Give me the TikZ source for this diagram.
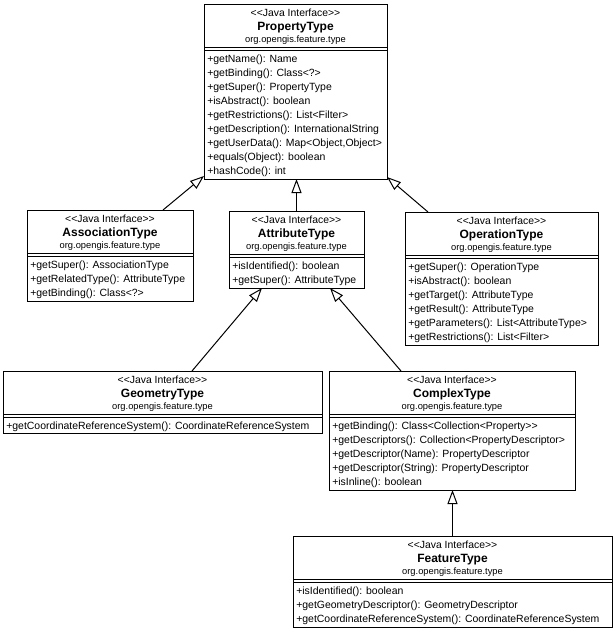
\documentclass[tikz,border=0pt]{standalone}
\usepackage{fontspec}
\setmainfont{Liberation Sans}[Ligatures=TeXOff]
\usetikzlibrary{arrows.meta,calc}
\tikzset{
  box/.style={draw, line width=0.75pt, fill=white, anchor=north west, inner sep=0pt, outer sep=0pt},
  stereo/.style={font=\fontsize{7.8}{9}\selectfont, inner sep=0pt, anchor=base},
  cname/.style={font=\bfseries\fontsize{9}{10}\selectfont, inner sep=0pt, anchor=base},
  pkg/.style={font=\fontsize{7}{8}\selectfont, inner sep=0pt, anchor=base},
  meth/.style={font=\fontsize{7.85}{9}\selectfont, inner sep=0pt, anchor=base west},
  sepline/.style={line width=0.75pt},
  gen/.style={line width=0.75pt, -{Triangle[open,length=10.5pt,width=7.5pt]}},
}
\newcommand{\umlclass}[7]{%
  \node[box, minimum width={(#4-#2)*0.75pt}, minimum height={(#5-#3)*0.75pt}] (#1) at (#2,#3) {};
  \node[stereo] (#1-st) at ({(#2+#4)/2},{#3+12.8}) {<\kern0pt<Java Interface>\kern0pt>};
  \node[cname] (#1-nm) at ({(#2+#4)/2},{#3+26.7}) {#6};
  \node[pkg] (#1-pk) at ({(#2+#4)/2},{#3+38.8}) {org.opengis.feature.type};
  \draw[sepline] ({#2},{#3+43.5}) -- ({#4},{#3+43.5});
  \draw[sepline] ({#2},{#3+46.5}) -- ({#4},{#3+46.5});
  \foreach \m [count=\i] in {#7} {\node[meth] (#1-m\i) at ({#2+3},{#3+58.8+14*(\i-1)}) {\m};}
}
\begin{document}
\begin{tikzpicture}[x=0.75pt,y=-0.75pt]
\useasboundingbox (0,0) rectangle (615,629);
\fill[white] (0,0) rectangle (615,629);

\umlclass{prop}{204}{4}{387}{179}{PropertyType}{+getName(): Name, +getBinding(): Class<?>, +getSuper(): PropertyType, +isAbstract(): boolean, +getRestrictions(): List<Filter>, +getDescription(): InternationalString, {+getUserData(): Map<Object,Object>}, +equals(Object): boolean, +hashCode(): int}

\umlclass{assoc}{27}{210}{193}{301}{AssociationType}{+getSuper(): AssociationType, +getRelatedType(): AttributeType, +getBinding(): Class<?>}

\umlclass{attr}{229}{211}{364}{288}{AttributeType}{+isIdentified(): boolean, +getSuper(): AttributeType}

\umlclass{oper}{405}{212}{598}{345}{OperationType}{+getSuper(): OperationType, +isAbstract(): boolean, +getTarget(): AttributeType, +getResult(): AttributeType, +getParameters(): List<AttributeType>, +getRestrictions(): List<Filter>}

\umlclass{geom}{3}{371}{322}{433}{GeometryType}{+getCoordinateReferenceSystem(): CoordinateReferenceSystem}

\umlclass{cplx}{329}{371}{575}{490}{ComplexType}{+getBinding(): Class<Collection<Property>>, +getDescriptors(): Collection<PropertyDescriptor>, +getDescriptor(Name): PropertyDescriptor, +getDescriptor(String): PropertyDescriptor, +isInline(): boolean}

\umlclass{feat}{293}{536}{612}{627}{FeatureType}{+isIdentified(): boolean, +getGeometryDescriptor(): GeometryDescriptor, +getCoordinateReferenceSystem(): CoordinateReferenceSystem}

\draw[gen] ($(assoc.north west)+(136,0)$) -- ($(prop.south west)+(0,-3)$);
\draw[gen] (attr.north) -- (attr.north |- prop.south);
\draw[gen] ($(oper.north west)+(23,0)$) -- ($(prop.south east)+(0,-2)$);
\draw[gen] ($(geom.north west)+(189,0)$) -- ($(attr.south west)+(33,0)$);
\draw[gen] ($(cplx.north west)+(72,0)$) -- ($(attr.south west)+(101,0)$);
\draw[gen] (feat.north) -- (feat.north |- cplx.south);
\end{tikzpicture}
\end{document}
